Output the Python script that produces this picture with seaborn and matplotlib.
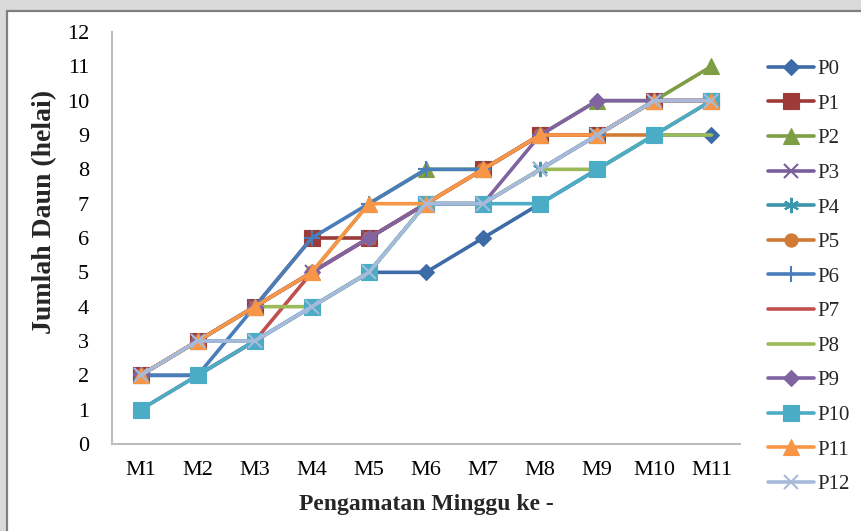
import matplotlib
matplotlib.use("Agg")
import matplotlib.pyplot as plt
import matplotlib.patches as mpatches
from matplotlib.lines import Line2D
import seaborn as sns
import pandas as pd

# Observation weeks
weeks = ["M1", "M2", "M3", "M4", "M5", "M6", "M7", "M8", "M9", "M10", "M11"]

# Leaf counts per treatment
p0 = [2, 2, 3, 4, 5, 5, 6, 7, 8, 9, 9]
p1 = [2, 3, 4, 6, 6, 7, 8, 9, 9, 10, 10]
p2 = [2, 3, 4, 5, 7, 8, 8, 9, 10, 10, 11]
p3 = [2, 3, 4, 5, 6, 7, 7, 8, 9, 10, 10]
p4 = [2, 3, 3, 4, 5, 7, 7, 8, 9, 10, 10]
p5 = [2, 3, 4, 5, 6, 7, 8, 9, 9, 9, 10]
p6 = [2, 2, 4, 6, 7, 8, 8, 9, 9, 10, 10]
p7 = [1, 2, 3, 5, 6, 7, 8, 9, 9, 10, 10]
p8 = [2, 3, 4, 4, 5, 7, 7, 8, 8, 9, 9]
p9 = [2, 3, 4, 5, 6, 7, 7, 9, 10, 10, 10]
p10 = [1, 2, 3, 4, 5, 7, 7, 7, 8, 9, 10]
p11 = [2, 3, 4, 5, 7, 7, 8, 9, 9, 10, 10]
p12 = [2, 3, 3, 4, 5, 7, 7, 8, 9, 10, 10]

names = ["P0", "P1", "P2", "P3", "P4", "P5", "P6",
         "P7", "P8", "P9", "P10", "P11", "P12"]
values = [p0, p1, p2, p3, p4, p5, p6, p7, p8, p9, p10, p11, p12]

colors = ["#3D6BA7", "#9D3B38", "#7E9E45", "#7A5E9C", "#3B96AD", "#D07A35",
          "#4A7EBB", "#C0504D", "#9BBB59", "#8064A2", "#4BACC6", "#F79646",
          "#A7BADA"]
markers = ["D", "s", "^", "x", (6, 2, 0), "o", "+",
           None, None, "D", "s", "^", "x"]
msizes = [8.5, 11, 11.5, 10, 11, 9.5, 12, 0, 0, 8.5, 11, 11.5, 10]

df = pd.DataFrame({
    "minggu": weeks * len(names),
    "daun": [v for vals in values for v in vals],
    "perlakuan": [n for n in names for _ in weeks],
})

sns.set_style("white")
plt.rcParams["font.family"] = ["Liberation Serif", "DejaVu Serif"]

fig = plt.figure(figsize=(8.61, 5.31), dpi=100)
fig.patch.set_facecolor("#DADADA")
# white chart panel with grey frame, kept behind the axes
panel = mpatches.Rectangle(
    (7 / 861, -0.05), 1.0, 1 - 11 / 531 + 0.05,
    transform=fig.transFigure, facecolor="white",
    edgecolor="#7F7F7F", linewidth=1.6, zorder=-10)
fig.patches.append(panel)

ax = fig.add_axes([112 / 861, 1 - 444 / 531, 628 / 861, 412 / 531])
ax.set_zorder(5)
ax.set_facecolor("white")
ax.patch.set_alpha(0.0)

handles = []
for i, name in enumerate(names):
    sub = df[df["perlakuan"] == name]
    mk = markers[i]
    line_mk = mk in ("x", "+") or isinstance(mk, tuple)
    kw = dict(color=colors[i], linewidth=2.6, ax=ax, legend=False, sort=False)
    if mk is not None:
        kw.update(marker=mk, markersize=msizes[i],
                  markeredgecolor=colors[i],
                  markeredgewidth=1.5 if line_mk else 0.8,
                  markerfacecolor=colors[i])
    sns.lineplot(data=sub, x="minggu", y="daun", **kw)
    handles.append(Line2D([0], [0], color=colors[i], linewidth=2.6,
                          marker=mk if mk is not None else "",
                          markersize=msizes[i] if mk is not None else 0,
                          markeredgecolor=colors[i],
                          markerfacecolor=colors[i],
                          markeredgewidth=1.5 if line_mk else 0.8))

ax.set_xlim(-0.5, len(weeks) - 0.5)
ax.set_ylim(0, 12)
ax.set_yticks(range(0, 13))
ax.tick_params(axis="both", length=0, labelsize=16, colors="black")
ax.tick_params(axis="y", pad=16.5)
ax.tick_params(axis="x", pad=12)

for side in ("top", "right"):
    ax.spines[side].set_visible(False)
for side in ("left", "bottom"):
    ax.spines[side].set_color("#BDBDBD")
    ax.spines[side].set_linewidth(1.5)

ax.set_xlabel("Pengamatan Minggu ke -", fontsize=17, fontweight="bold",
              labelpad=10)
ax.set_ylabel("Jumlah Daun (helai)", fontsize=20, fontweight="bold")
ax.yaxis.set_label_coords(-0.088, 0.563)

ax.legend(handles, names, loc="upper left", bbox_to_anchor=(1.045, 0.933),
          frameon=False, fontsize=15, handlelength=2.2, handletextpad=0.15,
          labelspacing=0.72, borderaxespad=0, borderpad=0)

fig.savefig("out.png", dpi=100, facecolor=fig.get_facecolor())
